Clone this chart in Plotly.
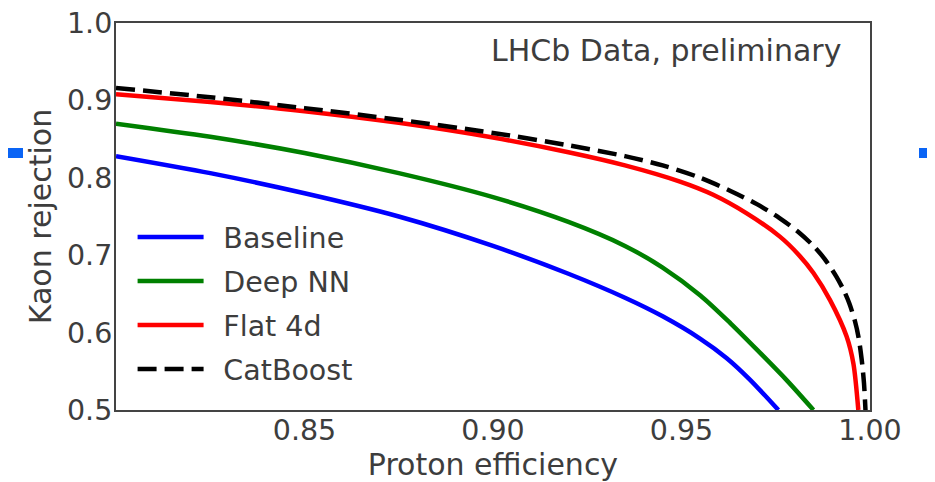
import plotly.graph_objects as go

# Proton efficiency (x) and Kaon rejection (y) for each method
baseline_x = [0.800, 0.825, 0.850, 0.875, 0.900, 0.920, 0.935, 0.945, 0.955, 0.962, 0.968, 0.9757]
baseline_y = [0.828, 0.806, 0.780, 0.750, 0.712, 0.676, 0.645, 0.621, 0.592, 0.567, 0.540, 0.500]

deepnn_x = [0.800, 0.825, 0.850, 0.875, 0.900, 0.920, 0.935, 0.945, 0.955, 0.963, 0.970, 0.978, 0.985]
deepnn_y = [0.870, 0.853, 0.832, 0.806, 0.775, 0.743, 0.712, 0.684, 0.648, 0.612, 0.578, 0.538, 0.500]

flat4d_x = [0.800, 0.825, 0.850, 0.875, 0.900, 0.920, 0.935, 0.9496, 0.9584, 0.9673, 0.9761,
            0.981, 0.985, 0.9894, 0.9938, 0.9956, 0.9969]
flat4d_y = [0.908, 0.898, 0.886, 0.871, 0.852, 0.833, 0.816, 0.795, 0.778, 0.754, 0.724,
            0.701, 0.677, 0.642, 0.595, 0.560, 0.500]

catboost_x = [0.800, 0.825, 0.850, 0.875, 0.900, 0.920, 0.935, 0.945, 0.955, 0.963, 0.970, 0.976,
              0.981, 0.985, 0.988, 0.991, 0.993, 0.9945, 0.996, 0.997, 0.9978, 0.9984, 0.9988]
catboost_y = [0.916, 0.904, 0.890, 0.875, 0.858, 0.842, 0.828, 0.816, 0.800, 0.783, 0.766, 0.748,
              0.730, 0.712, 0.695, 0.673, 0.655, 0.638, 0.615, 0.593, 0.565, 0.535, 0.500]

x_ticks = [0.85, 0.90, 0.95, 1.00]
x_ticktext = ["0.85", "0.90", "0.95", "1.00"]
y_ticks = [0.5, 0.6, 0.7, 0.8, 0.9, 1.0]
y_ticktext = ["0.5", "0.6", "0.7", "0.8", "0.9", "1.0"]

FONT = "DejaVu Sans"
TXT = "#3d3d3d"
LW = 4.5
FS_TICK = 28.5
FS_TEXT = 30
PAD = "\u00a0\u2009"
OFF = 8  # default page body margin

fig = go.Figure()
series = [
    ("Baseline", baseline_x, baseline_y, "#0000ff", "solid"),
    ("Deep NN", deepnn_x, deepnn_y, "#008000", "solid"),
    ("Flat 4d", flat4d_x, flat4d_y, "#ff0000", "solid"),
    ("CatBoost", catboost_x, catboost_y, "#000000", "19px,8px"),
]
for i, (name, xs, ys, col, dash) in enumerate(series):
    fig.add_trace(go.Scatter(
        x=xs, y=ys, mode="lines", name=PAD + name, legendgroup=f"g{i}",
        line=dict(color=col, width=LW, dash=dash, shape="spline", smoothing=0.8),
    ))

fig.update_layout(
    width=935, height=482,
    margin=dict(l=116 - OFF, r=65 + OFF, t=23 - OFF, b=72 + OFF, autoexpand=False),
    paper_bgcolor="white", plot_bgcolor="white",
    font=dict(family=FONT, size=FS_TEXT, color=TXT),
    showlegend=True,
    legend=dict(
        x=0.022, y=0.512, xanchor="left", yanchor="top",
        bgcolor="rgba(0,0,0,0)", borderwidth=0,
        font=dict(family=FONT, size=28.5, color=TXT),
        tracegroupgap=4, itemwidth=66,
    ),
    xaxis=dict(
        range=[0.80, 1.00], tickvals=x_ticks, ticktext=x_ticktext,
        showgrid=False, zeroline=False, ticks="", automargin=False,
        ticklabelstandoff=-6, ticklabeloverflow="allow",
        showline=True, mirror=True, linecolor="#444444", linewidth=2,
        title=dict(text="Proton efficiency", font=dict(family=FONT, size=FS_TEXT, color=TXT), standoff=4),
        tickfont=dict(family=FONT, size=FS_TICK, color=TXT),
    ),
    yaxis=dict(
        range=[0.5, 1.0], tickvals=y_ticks, ticktext=y_ticktext,
        showgrid=False, zeroline=False, ticks="", automargin=False,
        ticklabelstandoff=-4, ticklabeloverflow="allow",
        showline=True, mirror=True, linecolor="#444444", linewidth=2,
        title=dict(text="Kaon rejection", font=dict(family=FONT, size=FS_TEXT, color=TXT), standoff=6),
        tickfont=dict(family=FONT, size=FS_TICK, color=TXT),
    ),
    annotations=[dict(
        text="LHCb Data, preliminary", xref="paper", yref="paper",
        x=0.964, y=0.93, xanchor="right", yanchor="middle", showarrow=False,
        font=dict(family=FONT, size=FS_TEXT, color=TXT),
    )],
    shapes=[
        dict(type="rect", xref="paper", yref="paper",
             x0=-116/754, x1=(23-116)/754, y0=(410-158)/387, y1=(410-148)/387,
             fillcolor="#0a64f5", line=dict(width=0), layer="above"),
        dict(type="rect", xref="paper", yref="paper",
             x0=(919-116)/754, x1=(935-116)/754, y0=(410-158)/387, y1=(410-148)/387,
             fillcolor="#0a64f5", line=dict(width=0), layer="above"),
    ],
)

fig.write_html("out.html")
